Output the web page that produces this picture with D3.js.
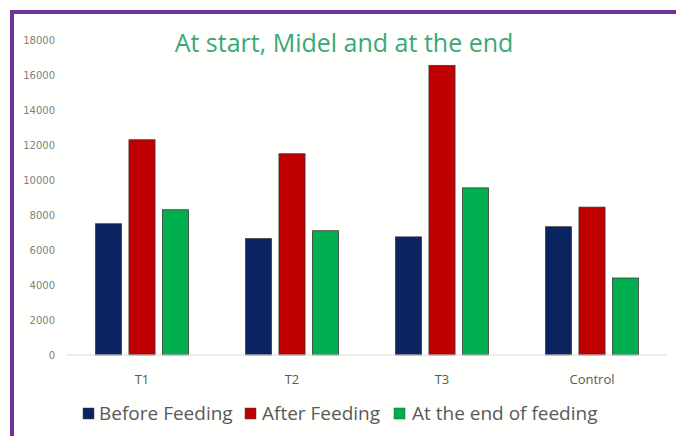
<!DOCTYPE html>
<html><head><meta charset="utf-8">
<script src="https://cdn.jsdelivr.net/npm/d3@7"></script>
<style>html,body{margin:0;padding:0;background:#fff;}svg{display:block;}</style>
</head><body>
<svg id="c" width="676" height="436"></svg>
<script>
const categories = ["T1", "T2", "T3", "Control"];
const seriesNames = ["Before Feeding", "After Feeding", "At the end of feeding"];
const beforeFeeding = [7500, 6650, 6750, 7330];
const afterFeeding = [12300, 11500, 16550, 8450];
const endOfFeeding = [8300, 7100, 9550, 4400];
const yTicks = [0, 2000, 4000, 6000, 8000, 10000, 12000, 14000, 16000, 18000];
const colors = ["#0b2461", "#c00000", "#00b050"];
const title = "At start, Midel and at the end";

const series = [beforeFeeding, afterFeeding, endOfFeeding];
const svg = d3.select("#c");

// frame
svg.append("rect").attr("x", 0).attr("y", 0).attr("width", 676).attr("height", 436).attr("fill", "#fff");
svg.append("rect").attr("x", 14).attr("y", 14).attr("width", 662).attr("height", 422).attr("fill", "#fffffd");
svg.append("rect").attr("x", 10).attr("y", 10).attr("width", 666).attr("height", 4).attr("fill", "#7030a0");
svg.append("rect").attr("x", 10).attr("y", 10).attr("width", 4).attr("height", 426).attr("fill", "#7030a0");

const x0 = d3.scaleBand().domain(categories).range([67, 667]).paddingInner(0.38).paddingOuter(0.19);
const x1 = d3.scaleBand().domain(d3.range(3)).range([0, x0.bandwidth()]).paddingInner(0.22);
const y = d3.scaleLinear().domain([0, 18000]).range([355, 40]);

// y labels
svg.append("g").selectAll("text").data(yTicks).join("text")
  .attr("x", 55).attr("y", d => y(d)).attr("dy", "0.35em")
  .attr("text-anchor", "end").attr("font-family", "DejaVu Sans").attr("font-size", 10)
  .attr("fill", "#7f7f7f").text(d => d);

// bars
const g = svg.append("g");
categories.forEach((c, ci) => {
  series.forEach((s, si) => {
    g.append("rect")
      .attr("x", x0(c) + x1(si)).attr("y", y(s[ci]))
      .attr("width", x1.bandwidth()).attr("height", y(0) - y(s[ci]))
      .attr("fill", colors[si]).attr("stroke", "#3a3a3a").attr("stroke-width", 0.8);
  });
});

// baseline
svg.append("line").attr("x1", 67).attr("x2", 667).attr("y1", y(0)).attr("y2", y(0))
  .attr("stroke", "#d9d9d9").attr("stroke-width", 1.2);

// x labels
const xAxis = d3.axisBottom(x0).tickSize(0).tickPadding(0);
const xa = svg.append("g").attr("transform", `translate(0,${y(0)})`).call(xAxis);
xa.select(".domain").remove();
xa.selectAll("text").attr("y", 29).attr("dy", 0).attr("font-family", "Open Sans").attr("font-size", 13).attr("fill", "#595959");

// title
svg.append("text").attr("x", 344).attr("y", 52).attr("text-anchor", "middle")
  .attr("font-family", "Open Sans").attr("font-size", 25).attr("fill", "#3aa874").text(title);

// legend
const legSq = [83, 245, 394];
const legTx = [99, 262, 412];
seriesNames.forEach((n, i) => {
  svg.append("rect").attr("x", legSq[i]).attr("y", 408).attr("width", 11).attr("height", 11)
    .attr("fill", colors[i]).attr("stroke", "#444").attr("stroke-width", 0.5);
  svg.append("text").attr("x", legTx[i]).attr("y", 420).attr("font-family", "Open Sans")
    .attr("font-size", 19).attr("fill", "#595959").text(n);
});
</script>
</body></html>
